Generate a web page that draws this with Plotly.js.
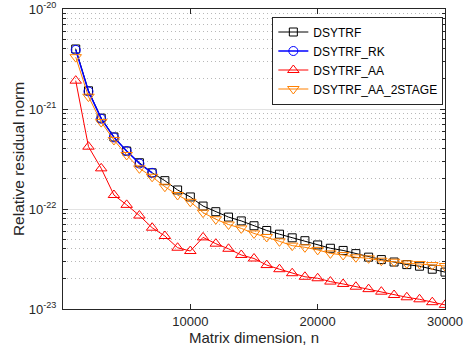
<!DOCTYPE html>
<html>
<head>
<meta charset="utf-8">
<script src="https://cdn.plot.ly/plotly-3.0.1.min.js"></script>
<style>html,body{margin:0;padding:0;background:#fff;}#chart{width:464px;height:354px;}</style>
</head>
<body>
<div id="chart"></div>
<script>
const n = [1000,2000,3000,4000,5000,6000,7000,8000,9000,10000,11000,12000,13000,14000,15000,16000,17000,18000,19000,20000,21000,22000,23000,24000,25000,26000,27000,28000,29000,30000];
const nRK = [1000,2000,3000,4000,5000,6000,7000];
const dsytrf = [3.98e-21,1.52e-21,8.1e-22,5.25e-22,3.8e-22,2.9e-22,2.3e-22,1.92e-22,1.55e-22,1.32e-22,1.07e-22,9.4e-23,8.3e-23,7.6e-23,6.8e-23,6.1e-23,5.6e-23,5.15e-23,4.82e-23,4.37e-23,4.05e-23,3.85e-23,3.58e-23,3.3e-23,3.12e-23,2.95e-23,2.78e-23,2.68e-23,2.5e-23,2.34e-23];
const dsytrfRK = [3.9e-21,1.5e-21,8.0e-22,5.2e-22,3.8e-22,2.85e-22,2.3e-22];
const dsytrfAA = [1.92e-21,4.2e-22,2.55e-22,1.38e-22,1.1e-22,8.6e-23,6.5e-23,5.37e-23,4.1e-23,3.8e-23,5.2e-23,4.5e-23,4.0e-23,3.47e-23,3.2e-23,2.75e-23,2.5e-23,2.28e-23,2.1e-23,2.03e-23,1.88e-23,1.78e-23,1.67e-23,1.58e-23,1.49e-23,1.38e-23,1.31e-23,1.25e-23,1.17e-23,1.1e-23];
const dsytrfAA2 = [3.3e-21,1.33e-21,7.4e-22,4.9e-22,3.47e-22,2.55e-22,2.1e-22,1.67e-22,1.38e-22,1.18e-22,9.2e-23,7.9e-23,7.0e-23,6.4e-23,5.7e-23,5.25e-23,4.75e-23,4.3e-23,4.14e-23,3.9e-23,3.6e-23,3.47e-23,3.29e-23,3.21e-23,3.04e-23,2.97e-23,2.86e-23,2.82e-23,2.75e-23,2.69e-23];
const xTicks = [10000,20000,30000];
const xTickText = ['10000','20000','30000'];
const yTicks = [1e-23,1e-22,1e-21,1e-20];
const yTickText = ['10<sup>-23</sup>','10<sup>-22</sup>','10<sup>-21</sup>','10<sup>-20</sup>'];
const decades = [-23,-22,-21];
const minorVals = [];
decades.forEach(d => { for (let m = 2; m <= 9; m++) minorVals.push(m * Math.pow(10, d)); });

const traces = [
  {x:n, y:dsytrf, name:'DSYTRF', mode:'lines+markers', line:{color:'#000000', width:1}, marker:{symbol:'square-open', size:8, color:'#000000', line:{width:1}}},
  {x:nRK, y:dsytrfRK, name:'DSYTRF_RK', mode:'lines+markers', line:{color:'#0000ff', width:1.5}, marker:{symbol:'circle-open', size:9, color:'#0000ff', line:{width:1}}},
  {x:n, y:dsytrfAA, name:'DSYTRF_AA', mode:'lines+markers', line:{color:'#ff0000', width:1}, marker:{symbol:'triangle-up-open', size:10, color:'#ff0000', line:{width:1}}},
  {x:n, y:dsytrfAA2, name:'DSYTRF_AA_2STAGE', mode:'lines+markers', line:{color:'#ff8000', width:1}, marker:{symbol:'triangle-down-open', size:10, color:'#ff8000', line:{width:1}}}
];
const axisColor = '#262626';
const layout = {
  width:464, height:354,
  margin:{l:63, r:19, t:9, b:45},
  paper_bgcolor:'#ffffff', plot_bgcolor:'#ffffff',
  font:{family:'Liberation Sans, Arial, sans-serif', size:13, color:axisColor},
  showlegend:true,
  legend:{x:0.548, y:0.975, xanchor:'left', yanchor:'top', bgcolor:'#ffffff', bordercolor:axisColor, borderwidth:1, font:{size:12, color:'#000000'}, itemwidth:30, tracegroupgap:0},
  xaxis:{range:[0,30000], tickmode:'array', tickvals:xTicks, ticktext:xTickText, ticks:'inside', ticklen:5, tickcolor:axisColor, showline:true, linecolor:axisColor, linewidth:1, mirror:'ticks', showgrid:false, zeroline:false,
    title:{text:'Matrix dimension, n', font:{size:15}, standoff:4}},
  yaxis:{type:'log', range:[-23,-20], tickmode:'array', tickvals:yTicks, ticktext:yTickText, ticks:'inside', ticklen:5, tickcolor:axisColor, ticklabelstandoff:3, showline:true, linecolor:axisColor, linewidth:1, mirror:'ticks', showgrid:true, gridcolor:'#e3e3e3', gridwidth:1, zeroline:false,
    minor:{tickmode:'array', tickvals:minorVals, ticks:'inside', ticklen:3, tickcolor:axisColor, showgrid:true, gridcolor:'#b8b8b8', griddash:'1px,3px', gridwidth:1},
    title:{text:'Relative residual norm', font:{size:15.5}, standoff:0}}
};
Plotly.newPlot('chart', traces, layout, {displayModeBar:false, staticPlot:true});
</script>
</body>
</html>
